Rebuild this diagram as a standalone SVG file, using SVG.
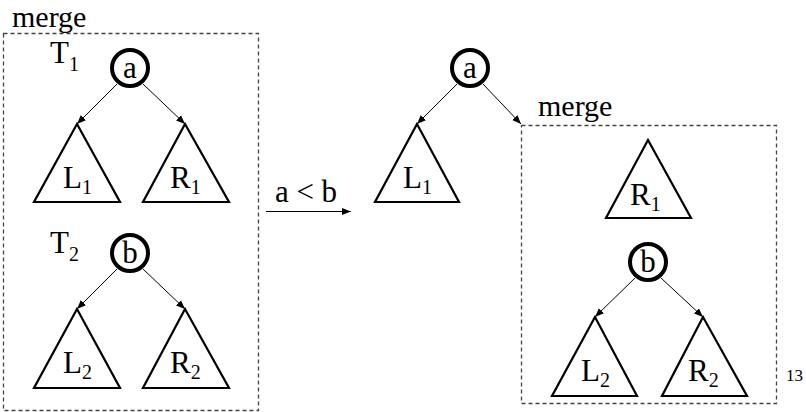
<svg xmlns="http://www.w3.org/2000/svg" width="806" height="412" viewBox="0 0 806 412" font-family="'Liberation Serif', 'DejaVu Serif', serif">
<style>
text{font-family:'Liberation Serif','DejaVu Serif',serif;fill:#000}
.lbl{font-size:31px}
.mg{font-size:30px}
.sub{font-size:20px}
.box{fill:none;stroke:#444;stroke-width:1.3;stroke-dasharray:4 3}
.node{fill:#fff;stroke:#000;stroke-width:4}
.tri{fill:#fff;stroke:#000;stroke-width:2.2;stroke-linejoin:miter}
.edge{fill:none;stroke:#000;stroke-width:1}
.pg{font-size:17px}
</style>
<defs>
<marker id="ah" viewBox="0 0 10 10" refX="10" refY="5" markerWidth="9" markerHeight="9" markerUnits="userSpaceOnUse" orient="auto">
<path d="M0,1 L10,5 L0,9 z" fill="#000"/>
</marker>
</defs>
<rect width="806" height="412" fill="#fff"/>

<g id="merge-box-left">
<rect class="box" x="3.5" y="33.5" width="255" height="377"/>
<text class="mg" x="12" y="27">merge</text>
</g>
<g id="merge-box-right">
<rect class="box" x="521.5" y="125.5" width="255" height="278"/>
<text class="mg" x="538" y="116">merge</text>
</g>

<g id="connectors">
<line class="edge" x1="117" y1="84" x2="77" y2="124" marker-end="url(#ah)"/>
<line class="edge" x1="143" y1="84" x2="185" y2="124" marker-end="url(#ah)"/>
<line class="edge" x1="117" y1="269" x2="77" y2="309" marker-end="url(#ah)"/>
<line class="edge" x1="143" y1="269" x2="185" y2="309" marker-end="url(#ah)"/>
<line class="edge" x1="266" y1="211.5" x2="351" y2="211.5" marker-end="url(#ah)"/>
<line class="edge" x1="457" y1="84" x2="417" y2="124" marker-end="url(#ah)"/>
<line class="edge" x1="483" y1="84" x2="521" y2="124" marker-end="url(#ah)"/>
<line class="edge" x1="635" y1="278" x2="595" y2="317" marker-end="url(#ah)"/>
<line class="edge" x1="661" y1="278" x2="703" y2="317" marker-end="url(#ah)"/>
</g>

<g id="T1-label"><text class="lbl" x="50" y="63">T<tspan class="sub" dy="8">1</tspan></text></g>
<g id="T1-a"><circle class="node" cx="130" cy="68" r="18"/><text class="lbl" x="130" y="78" text-anchor="middle">a</text></g>
<g id="T1-L1"><polygon class="tri" points="77,124 34,202 120,202"/><text class="lbl" x="63" y="188">L<tspan class="sub" dy="6">1</tspan></text></g>
<g id="T1-R1"><polygon class="tri" points="185,124 143,202 229,202"/><text class="lbl" x="170" y="188">R<tspan class="sub" dy="6">1</tspan></text></g>

<g id="T2-label"><text class="lbl" x="50" y="253">T<tspan class="sub" dy="8">2</tspan></text></g>
<g id="T2-b"><circle class="node" cx="130" cy="253" r="18"/><text class="lbl" x="130" y="263" text-anchor="middle">b</text></g>
<g id="T2-L2"><polygon class="tri" points="77,309 34,388 120,388"/><text class="lbl" x="63" y="373">L<tspan class="sub" dy="6">2</tspan></text></g>
<g id="T2-R2"><polygon class="tri" points="185,309 143,388 229,388"/><text class="lbl" x="170" y="373">R<tspan class="sub" dy="6">2</tspan></text></g>

<g id="cond"><text class="lbl" x="306" y="202" text-anchor="middle">a &lt; b</text></g>

<g id="M-a"><circle class="node" cx="470" cy="68" r="18"/><text class="lbl" x="470" y="78" text-anchor="middle">a</text></g>
<g id="M-L1"><polygon class="tri" points="417,124 375,202 459,202"/><text class="lbl" x="403" y="188">L<tspan class="sub" dy="6">1</tspan></text></g>
<g id="M-R1"><polygon class="tri" points="648,140 606,218 691,218"/><text class="lbl" x="630" y="205">R<tspan class="sub" dy="6">1</tspan></text></g>
<g id="M-b"><circle class="node" cx="648" cy="262" r="18"/><text class="lbl" x="648" y="272" text-anchor="middle">b</text></g>
<g id="M-L2"><polygon class="tri" points="595,317 552,396 637,396"/><text class="lbl" x="581" y="381">L<tspan class="sub" dy="6">2</tspan></text></g>
<g id="M-R2"><polygon class="tri" points="703,317 662,396 747,396"/><text class="lbl" x="688" y="381">R<tspan class="sub" dy="6">2</tspan></text></g>

<g id="page"><text class="pg" x="786" y="381">13</text></g>
</svg>
